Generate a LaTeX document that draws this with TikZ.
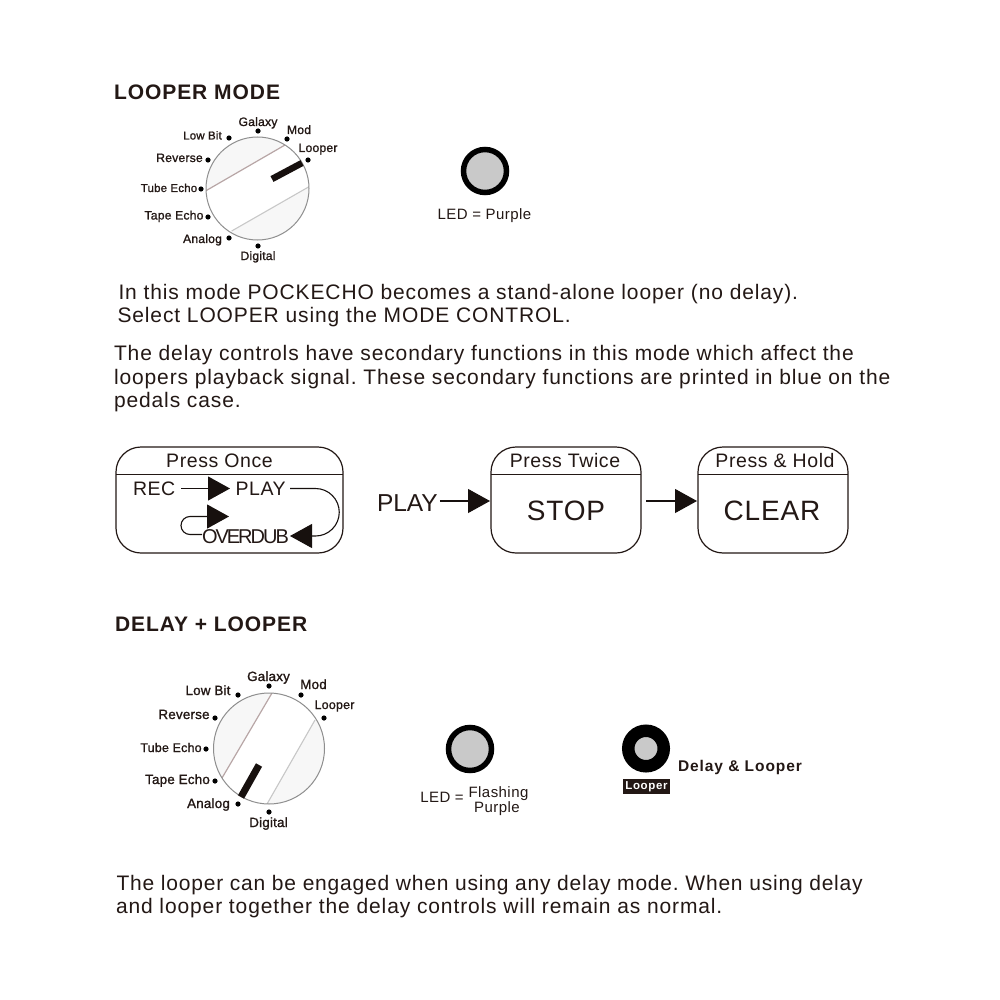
\documentclass[tikz,border=0pt]{standalone}
\usepackage{fontspec}
\setmainfont{Liberation Sans}
\newfontfamily\bodyf[LetterSpace=4.2]{Liberation Sans}
\newfontfamily\bodytight[LetterSpace=3.8]{Liberation Sans}
\newfontfamily\pressf[LetterSpace=3]{Liberation Sans}
\newfontfamily\headf[LetterSpace=4.5]{Liberation Sans Bold}
\newfontfamily\delayf[LetterSpace=6]{Liberation Sans Bold}
\newfontfamily\tagf[LetterSpace=6]{Liberation Sans Bold}
\newfontfamily\dialf[LetterSpace=1.5,FakeBold=1.2]{Liberation Sans}
\definecolor{ink}{HTML}{231815}
\definecolor{deep}{HTML}{17100E}
\definecolor{ledg}{HTML}{C9C9C9}
\definecolor{seg}{HTML}{F7F7F7}
\definecolor{pinkline}{HTML}{B8A6A6}
\definecolor{greyline}{HTML}{C8C8C8}
\definecolor{rim}{HTML}{8E8E8E}
\usetikzlibrary{arrows.meta}
\tikzset{
  txt/.style={inner sep=0pt,outer sep=0pt,text=ink,anchor=base west},
  body/.style={txt,font=\frenchspacing\bodyf\fontsize{21}{22}\selectfont},
  bodyt/.style={txt,font=\frenchspacing\bodytight\fontsize{21}{22}\selectfont},
  head/.style={txt,font=\headf\fontsize{21}{22}\selectfont},
  dial/.style={inner sep=0pt,outer sep=0pt,text=ink,anchor=base,font=\dialf\fontsize{12.2}{13}\selectfont},
  dialt/.style={dial,font=\dialf\fontsize{11.5}{13}\selectfont},
  dialb/.style={inner sep=0pt,outer sep=0pt,text=ink,anchor=base,font=\dialf\fontsize{13.4}{14}\selectfont},
  dialc/.style={dialb,font=\dialf\fontsize{12.5}{14}\selectfont},
  tick/.style={circle,fill=black,inner sep=0pt,minimum size=5.2pt},
  pressbox/.style={draw=ink,line width=1.2pt,rounded corners=25pt},
  divider/.style={draw=ink,line width=1pt},
  big/.style={inner sep=0pt,outer sep=0pt,text=ink,anchor=base,font=\pressf\fontsize{19.5}{22}\selectfont},
  huge/.style={inner sep=0pt,outer sep=0pt,text=ink,anchor=base,font=\pressf\fontsize{28}{30}\selectfont},
  flow/.style={draw=deep,line width=1.1pt,-{Triangle[length=22pt,width=24pt,fill=deep]}},
  ledring/.style={circle,draw=black,fill=ledg,line width=5.5pt,minimum size=43pt,inner sep=0pt},
  small/.style={inner sep=0pt,outer sep=0pt,text=ink,anchor=base,font=\pressf\fontsize{15}{16}\selectfont},
}
\begin{document}
\begin{tikzpicture}[x=1pt,y=-1pt]
\useasboundingbox (0,0) rectangle (1000,1000);
\fill[white] (0,0) rectangle (1000,1000);

% headings
\node[head] (h1) at (114,99.5) {LOOPER MODE};
\node[head] (h2) at (115,631.5) {DELAY + LOOPER};

% knob 1
\begin{scope}
\clip (257.5,188.5) circle (51.5);
\fill[seg] (206,190.7) -- (285,145) -- (300,120) -- (190,120) -- cycle;
\fill[seg] (231.7,231) -- (309,186.7) -- (330,250) -- (220,250) -- cycle;
\draw[pinkline,line width=1.2pt] (206,190.7) -- (285,145);
\draw[greyline,line width=1.1pt] (231.7,231) -- (309,186.7);
\end{scope}
\draw[rim,line width=1pt] (257.5,188.5) circle (51.5);
\draw[deep,line width=6.5pt] (272,179) -- (302,163);
\foreach \n/\x/\y in {a/229/138,b/258/131,c/287/139,d/308/160,e/208/160,f/201/189,g/208/217,h/229/238,i/258/246}
  \node[tick] (k1\n) at (\x,\y) {};
\node[dialt] (l1a) at (202.5,139.5) {Low Bit};
\node[dial] (l1b) at (258,126) {Galaxy};
\node[dial] (l1c) at (299,134) {Mod};
\node[dial] (l1d) at (318,152) {Looper};
\node[dial] (l1e) at (179.5,162) {Reverse};
\node[dialt] (l1f) at (169,192) {Tube Echo};
\node[dial] (l1g) at (174,219.5) {Tape Echo};
\node[dial] (l1h) at (202.5,243) {Analog};
\node[dial] (l1i) at (258,260) {Digital};

% LED 1
\node[ledring] (led1) at (485,171) {};
\node[small] (led1t) at (484.5,219.5) {LED = Purple};

% paragraphs
\node[body] (p1) at (118.5,299.5) {In this mode POCKECHO becomes a stand-alone looper (no delay).};
\node[body] (p2) at (117.5,322.5) {Select LOOPER using the MODE CONTROL.};
\node[body] (p3) at (114,360.5) {The delay controls have secondary functions in this mode which affect the};
\node[body] (p4) at (114,384) {loopers playback signal. These secondary functions are printed in blue on the};
\node[body] (p5) at (114,407.5) {pedals case.};

% press boxes
\draw[pressbox] (116,447) rectangle (343,553);
\draw[divider] (116,474) -- (343,474);
\draw[pressbox] (491,447) rectangle (641,553);
\draw[divider] (491,474) -- (641,474);
\draw[pressbox] (698,447) rectangle (848,553);
\draw[divider] (698,474) -- (848,474);

\node[big] (po) at (219.5,467) {Press Once};
\node[big] (pt) at (565,467) {Press Twice};
\node[big] (ph) at (775,467) {Press \& Hold};

\node[big,anchor=base west] (rec) at (133,495.5) {REC};
\node[big,anchor=base west] (play) at (235.5,495) {PLAY};
\node[txt,font=\fontsize{20}{22}\selectfont,inner sep=0pt] (over) at (202,543) {\addfontfeature{LetterSpace=-10}OVERDUB};
\coordinate (rect) at (181,488.5);
\coordinate (playin) at (230,488.5);
\coordinate (playout) at (290,488.5);
\coordinate (ovin) at (290,536);
\coordinate (ovout) at (202,534.5);
\coordinate (loopend) at (229,516.5);
\draw[flow] (rect) -- (playin);
\draw[flow] (playout) -- (315.5,488.5) arc[start angle=-90,end angle=90,radius=23.75,y=-1pt] -- (ovin);
\draw[flow] (ovout) -- (190,534.5) arc[start angle=90,end angle=270,radius=9,y=-1pt] -- (loopend);

\node[txt,font=\fontsize{24.5}{26}\selectfont] (play2) at (377,511) {PLAY};
\coordinate (stopin) at (490,501);
\coordinate (stopout) at (646,501);
\coordinate (clearin) at (697,501);
\draw[flow] (play2.east |- stopin) ++(2,0) -- (stopin);
\draw[flow] (stopout) -- (clearin);
\node[huge] (stop) at (566,520.5) {STOP};
\node[huge] (clear) at (772,520.5) {CLEAR};

% knob 2
\begin{scope}
\clip (269,748.5) circle (55.5);
\fill[seg] (272,693) -- (222,778) -- (200,760) -- (200,680) -- cycle;
\fill[seg] (315,720) -- (267,804) -- (330,820) -- (340,720) -- cycle;
\draw[pinkline,line width=1.2pt] (272,693) -- (222,778);
\draw[greyline,line width=1.1pt] (315,720) -- (267,804);
\end{scope}
\draw[rim,line width=1pt] (269,748.5) circle (55.5);
\draw[deep,line width=7pt] (259,765) -- (241,797);
\foreach \n/\x/\y in {a/238/695,b/269/686,c/301/695,d/324/718,e/215/718,f/206/749,g/215/781,h/238/804,i/269/812}
  \node[tick] (k2\n) at (\x,\y) {};
\node[dialb] (l2a) at (208,695) {Low Bit};
\node[dialb] (l2b) at (268.5,681) {Galaxy};
\node[dialb] (l2c) at (313.5,689) {Mod};
\node[dialc] (l2d) at (334.5,709) {Looper};
\node[dialb] (l2e) at (184,719) {Reverse};
\node[dialc] (l2f) at (171,752) {Tube Echo};
\node[dialb] (l2g) at (177.5,784) {Tape Echo};
\node[dialb] (l2h) at (208.5,808) {Analog};
\node[dialb] (l2i) at (268.5,827) {Digital};

% LED 2
\node[ledring] (led2) at (470,749) {};
\node[small] (led2a) at (442,802) {LED =};
\node[small] (led2b) at (498.5,797.5) {Flashing};
\node[small] (led2c) at (497,812.5) {Purple};

% Looper button
\node[circle,draw=black,fill=ledg,line width=12.5pt,minimum size=35.5pt,inner sep=0pt] (btn) at (646,748.5) {};
\node[fill=ink,text=white,inner sep=0pt,minimum width=47pt,minimum height=15pt,font=\tagf\fontsize{11.5}{12}\selectfont] (btnl) at (646.5,786.5) {Looper};
\node[txt,font=\delayf\fontsize{15.5}{16}\selectfont] (btnt) at (678,771.5) {Delay \& Looper};

% paragraph bottom
\node[bodyt] (p6) at (116.5,890.5) {The looper can be engaged when using any delay mode. When using delay};
\node[body] (p7) at (116,913.5) {and looper together the delay controls will remain as normal.};
\end{tikzpicture}
\end{document}
